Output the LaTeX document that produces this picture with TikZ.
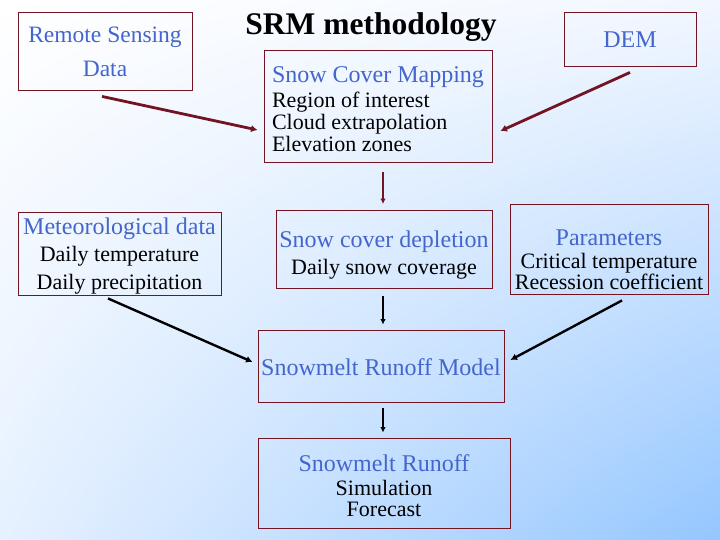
\documentclass[tikz,border=0pt]{standalone}
\usepackage{fontspec}
\setmainfont{Liberation Serif}
\usetikzlibrary{arrows.meta,calc,shadings}
\definecolor{boxred}{RGB}{115,20,35}
\definecolor{txtblue}{RGB}{68,102,204}
\definecolor{bgLR}{RGB}{148,198,255}
\definecolor{bgUR}{RGB}{242,247,255}
\definecolor{bgLL}{RGB}{230,241,255}
\newcommand{\bluehead}[1]{{\color{txtblue}\fontsize{24}{22}\selectfont #1}}
\begin{document}
\begin{tikzpicture}[x=1pt,y=-1pt,
  box/.style={draw=boxred, line width=0.9pt, inner sep=0pt},
  txt/.style={inner sep=0pt, align=center},
  redarr/.style={draw=boxred, line width=2.8pt, -{Latex[length=6.5pt,width=7.5pt]}},
  blkarr/.style={draw=black, line width=2.4pt, -{Latex[length=6.5pt,width=7pt]}},
  vredarr/.style={draw=boxred, line width=1.9pt, -{Latex[length=5.5pt,width=5.5pt]}},
  vblkarr/.style={draw=black, line width=1.9pt, -{Latex[length=5.5pt,width=5.5pt]}},
]
\useasboundingbox (0,0) rectangle (720,540);
\shade[upper left=white, upper right=bgUR, lower left=bgLL, lower right=bgLR] (0,0) rectangle (720,540);

\node[font=\bfseries\fontsize{31.5}{31.5}\selectfont] (title) at (371,27) {SRM methodology};

% boxes
\node[box, minimum width=174, minimum height=78] (rs) at (105,51) {};
\node[box, minimum width=228, minimum height=112] (scm) at (378,106) {};
\node[box, minimum width=132, minimum height=54] (dem) at (630,39) {};
\node[box, minimum width=203, minimum height=83] (met) at (119.5,253.5) {};
\node[box, minimum width=216, minimum height=78] (scd) at (384,249.5) {};
\node[box, minimum width=198, minimum height=90] (par) at (609,249) {};
\node[box, minimum width=246, minimum height=72] (srm) at (381,366) {};
\node[box, minimum width=252, minimum height=90] (ro) at (384,483) {};

% texts
\node[txt, text=txtblue, font=\fontsize{23.5}{34}\selectfont] (rsT) at ($(rs.center)+(0,1)$) {Remote Sensing\\Data};
\node[txt, align=left, font=\fontsize{22}{22}\selectfont] (scmT) at ($(scm.center)+(0,3)$)
  {\bluehead{Snow Cover Mapping}\\[3pt]Region of interest\\Cloud extrapolation\\Elevation zones};
\node[txt, text=txtblue, font=\fontsize{24}{26}\selectfont] (demT) at ($(dem.center)+(0,1)$) {DEM};
\node[txt, font=\fontsize{22}{27.5}\selectfont] (metT) at ($(met.center)+(0,2.5)$)
  {\bluehead{Meteorological data}\\Daily temperature\\Daily precipitation};
\node[txt, font=\fontsize{22}{27}\selectfont] (scdT) at ($(scd.center)+(0,5.5)$)
  {\bluehead{Snow cover depletion}\\Daily snow coverage};
\node[txt, font=\fontsize{22}{19}\selectfont] (parT) at ($(par.center)+(0,11)$)
  {\bluehead{Parameters}\\[4pt]Critical temperature\\Recession coefficient};
\node[txt, text=txtblue, font=\fontsize{24}{28}\selectfont] (srmT) at ($(srm.center)+(0,1)$) {Snowmelt Runoff Model};
\node[txt, font=\fontsize{22}{21}\selectfont] (roT) at ($(ro.center)+(0,2.5)$)
  {\bluehead{Snowmelt Runoff}\\[2.5pt]Simulation\\Forecast};

% connectors
\draw[redarr] ($(rs.south)+(-3,6)$) -- ($(scm.west)+(-6,24)$);
\draw[redarr] ($(dem.south)+(0,6)$) -- ($(scm.east)+(8,25)$);
\draw[vredarr] ($(scm.south)+(5,10)$) -- ($(scd.north)+(-1,-6)$);
\draw[vblkarr] ($(scd.south)+(-1,7)$) -- ($(srm.north)+(2,-5)$);
\draw[blkarr] ($(met.south)+(-11.5,3)$) -- ($(srm.west)+(-5,-4)$);
\draw[blkarr] ($(par.south)+(13,6)$) -- ($(srm.east)+(6,-6)$);
\draw[vblkarr] ($(srm.south)+(2,6)$) -- ($(ro.north)+(-1,-5)$);
\end{tikzpicture}
\end{document}
